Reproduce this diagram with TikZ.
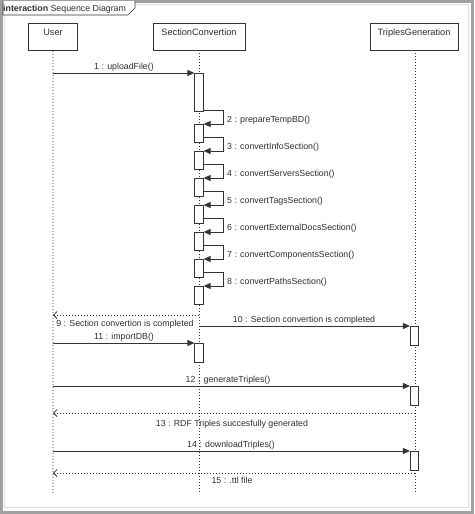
\documentclass[tikz,border=0pt]{standalone}
\usepackage{fontspec}
\setmainfont{Liberation Sans}
\usetikzlibrary{arrows.meta}
\definecolor{ln}{HTML}{333333}
\definecolor{txt}{HTML}{2E2E2E}
\definecolor{frm}{HTML}{A0A0A0}
\tikzset{
  lbl/.style={font=\fontsize{8.8}{10}\selectfont, text=txt, inner sep=0pt, anchor=base},
  slbl/.style={lbl, anchor=base west},
  head/.style={draw=ln, line width=0.8pt, fill=white, inner sep=0pt, font=\fontsize{9.2}{10}\selectfont, text=txt},
  life/.style={ln, line width=0.8pt, dash pattern=on 1pt off 2pt},
  actbar/.style={draw=ln, line width=0.7pt, fill=white, minimum width=8.5pt, inner sep=0pt, anchor=north},
  call/.style={ln, line width=0.85pt, -{Triangle[length=7pt,width=6pt]}},
  ret/.style={ln, line width=0.8pt, dash pattern=on 1pt off 2pt, -{Straight Barb[length=3.5pt,width=7pt]}},
}
\begin{document}
\begin{tikzpicture}[x=1pt,y=-1pt]
\useasboundingbox (0,0) rectangle (474,514);
% outer frame
\draw[frm, line width=3pt] (1.5,1.5) rectangle (472.5,512.5);
\draw[gray!25, line width=1pt] (4,4) rectangle (468.5,507);
% tab
\draw[ln, line width=0.6pt, fill=white] (3,1) -- (3,15) -- (128,15) -- (135,8) -- (135,1);
\node[lbl, anchor=base west] (tab) at (3,11.5) {\textbf{interaction} Sequence Diagram};
% heads
\node[head, minimum width=49pt, minimum height=27pt, anchor=north west] (user) at (28,23) {};
\node[head, minimum width=92pt, minimum height=27pt, anchor=north west] (sc) at (153,23) {};
\node[head, minimum width=88pt, minimum height=27pt, anchor=north west] (tg) at (370,23) {};
\node[lbl, font=\fontsize{9.2}{10}\selectfont] (userT) at (53,35) {User};
\node[lbl, font=\fontsize{9.2}{10}\selectfont] (scT) at (199,35) {SectionConvertion};
\node[lbl, font=\fontsize{9.2}{10}\selectfont] (tgT) at (414,35) {TriplesGeneration};
% lifelines
\coordinate (uEnd) at (53,494);
\coordinate (sEnd) at (199,494);
\coordinate (tEnd) at (415,494);
\draw[life] (user.south) -- (uEnd);
\draw[life] (199,50) -- (sEnd);
\draw[life] (415,50) -- (tEnd);
% activation bars on SectionConvertion
\node[actbar, minimum height=38pt] (b1) at (199,73) {};
\foreach \k/\t in {2/124,3/151,4/178,5/205,6/232,7/259,8/286}{
  \node[actbar, minimum height=18pt] (b\k) at (199,\t) {};
}
\node[actbar, minimum height=19pt] (b11) at (199,343) {};
% TG bars
\node[actbar, minimum height=19pt] (t10) at (414.5,326) {};
\node[actbar, minimum height=19pt] (t12) at (414.5,386) {};
\node[actbar, minimum height=19pt] (t14) at (414.5,451) {};
% message 1
\coordinate (u1) at (53,73);
\draw[call] (u1) -- (b1.north west);
\node[lbl] (m1) at (124,69.5) {1 : uploadFile()};
% self messages
\draw[call] (203.25,110) -- (223,110) |- (b2.north east);
\node[slbl] (m2) at (227,122) {2 : prepareTempBD()};
\draw[call] (203.25,137) -- (223,137) |- (b3.north east);
\node[slbl] (m3) at (227,149) {3 : convertInfoSection()};
\draw[call] (203.25,164) -- (223,164) |- (b4.north east);
\node[slbl] (m4) at (227,176) {4 : convertServersSection()};
\draw[call] (203.25,191) -- (223,191) |- (b5.north east);
\node[slbl] (m5) at (227,203) {5 : convertTagsSection()};
\draw[call] (203.25,218) -- (223,218) |- (b6.north east);
\node[slbl] (m6) at (227,230) {6 : convertExternalDocsSection()};
\draw[call] (203.25,245) -- (223,245) |- (b7.north east);
\node[slbl] (m7) at (227,257) {7 : convertComponentsSection()};
\draw[call] (203.25,272) -- (223,272) |- (b8.north east);
\node[slbl] (m8) at (227,284) {8 : convertPathsSection()};
% 9 return
\coordinate (s9) at (199,315);
\coordinate (u9) at (53,315);
\draw[ret] (s9) -- (u9);
\node[lbl] (m9) at (125,326.5) {9 : Section convertion is completed};
% 10
\coordinate (s10) at (199,326);
\draw[call] (s10) -- (t10.north west);
\node[lbl] (m10) at (304,322.5) {10 : Section convertion is completed};
% 11
\coordinate (u11) at (53,343);
\draw[call] (u11) -- (b11.north west);
\node[lbl] (m11) at (124,339.5) {11 : importDB()};
% 12
\coordinate (u12) at (53,386);
\draw[call] (u12) -- (t12.north west);
\node[lbl] (m12) at (228,382.5) {12 : generateTriples()};
% 13
\coordinate (t13) at (415,413);
\coordinate (u13) at (53,413);
\draw[ret] (t13) -- (u13);
\node[lbl] (m13) at (232,426) {13 : RDF Triples succesfully generated};
% 14
\coordinate (u14) at (53,451);
\draw[call] (u14) -- (t14.north west);
\node[lbl] (m14) at (231,447.5) {14 : downloadTriples()};
% 15
\coordinate (t15) at (415,473);
\coordinate (u15) at (53,473);
\draw[ret] (t15) -- (u15);
\node[lbl] (m15) at (232,483) {15 : .ttl file};
\end{tikzpicture}
\end{document}
